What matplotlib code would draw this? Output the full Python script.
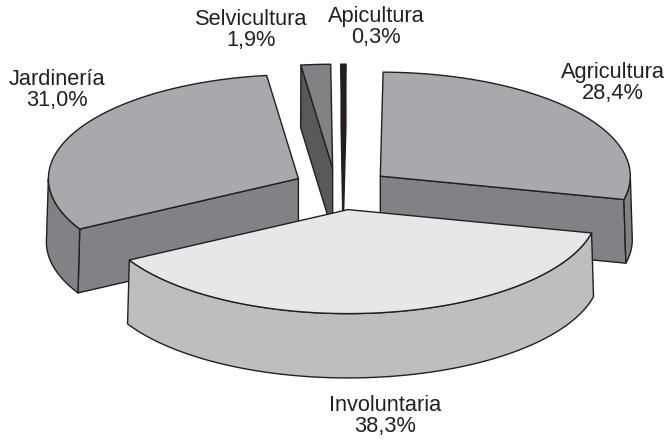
import numpy as np
import matplotlib
matplotlib.use('Agg')
import matplotlib.pyplot as plt
from matplotlib.patches import Polygon

plt.rcParams['font.family'] = ['Liberation Sans', 'DejaVu Sans']

# slices in drawing order round the pie, counter clockwise
categories = ['Involuntaria', 'Agricultura', 'Apicultura', 'Selvicultura', 'Jardinería']
values = [38.3, 28.4, 0.3, 1.9, 31.0]
value_labels = ['38,3%', '28,4%', '0,3%', '1,9%', '31,0%']

top_colors = {'Involuntaria': '#e6e7e8', 'Agricultura': '#a7a9ac', 'Apicultura': '#231f20',
              'Selvicultura': '#808285', 'Jardinería': '#a7a9ac'}
side_colors = {'Involuntaria': '#bcbec0', 'Agricultura': '#808285', 'Apicultura': '#231f20',
               'Selvicultura': '#58595b', 'Jardinería': '#808285'}
label_pos = {'Involuntaria': (385, 416), 'Agricultura': (613, 83), 'Apicultura': (376, 27),
             'Selvicultura': (251, 30), 'Jardinería': (57, 90)}
# small pixel shifts on top of the explode distance
nudge = {'Involuntaria': (1, 0), 'Agricultura': (1, 0), 'Apicultura': (3, 0),
         'Selvicultura': (-4, 0), 'Jardinería': (3, -1)}

# pie projection, in pixels
cx, cy = 340, 189
a, b = 250, 104
depth = 63.5
explode = 0.2
base_grow = 1.008
start_angle = 209.0
edge = '#231f20'


def rim(t, ox, oy, down=0, grow=1.0):
    return np.column_stack([ox + grow * a * np.cos(t), oy - grow * b * np.sin(t) + down])


def face(ax, pts, color):
    ax.add_patch(Polygon(pts, closed=True, facecolor=color, edgecolor=edge, linewidth=1.0,
                         joinstyle='round'))


def draw_slice(ax, name, t0, t1):
    mid = (t0 + t1) / 2
    ox = cx + explode * a * np.cos(mid) + nudge[name][0]
    oy = cy - explode * b * np.sin(mid) + nudge[name][1]
    apex = np.array([[ox, oy]])
    apex_low = np.array([[ox, oy + depth]])
    side = side_colors[name]

    # flat cut faces, only those turned to the viewer
    if np.cos(t0) > 0:
        e = rim(np.array([t0]), ox, oy)
        e2 = rim(np.array([t0]), ox, oy, depth, base_grow)
        face(ax, np.vstack([apex, e, e2, apex_low]), side)
    if np.cos(t1) < 0:
        e = rim(np.array([t1]), ox, oy)
        e2 = rim(np.array([t1]), ox, oy, depth, base_grow)
        face(ax, np.vstack([apex, e, e2, apex_low]), side)

    # outer wall, the part on the near half of the ellipse
    for lo, hi in [(np.pi, 2 * np.pi), (3 * np.pi, 4 * np.pi)]:
        r0, r1 = max(t0, lo), min(t1, hi)
        if r1 > r0:
            t = np.linspace(r0, r1, 120)
            face(ax, np.vstack([rim(t, ox, oy), rim(t[::-1], ox, oy, depth, base_grow)]), side)

    # top
    t = np.linspace(t0, t1, 200)
    face(ax, np.vstack([apex, rim(t, ox, oy)]), top_colors[name])


fig = plt.figure(figsize=(6.65, 4.4), dpi=100)
ax = fig.add_axes([0, 0, 1, 1])
ax.set_xlim(0, 665)
ax.set_ylim(440, 0)
ax.axis('off')

spans = np.array(values) / sum(values) * 2 * np.pi
ends = np.radians(start_angle) + np.cumsum(spans)
starts = ends - spans
angles = {n: (s, e) for n, s, e in zip(categories, starts, ends)}

for name in ['Apicultura', 'Selvicultura', 'Jardinería', 'Agricultura', 'Involuntaria']:
    draw_slice(ax, name, *angles[name])

for name, lab in zip(categories, value_labels):
    x, y = label_pos[name]
    ax.text(x, y, name + '\n' + lab, ha='center', va='center', fontsize=15.7,
            color=edge, linespacing=1.02)

fig.savefig('out.png', dpi=100)
